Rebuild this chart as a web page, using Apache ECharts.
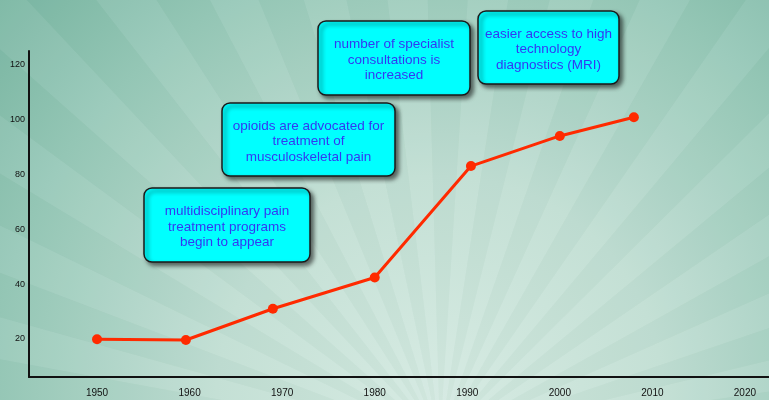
<!DOCTYPE html>
<html>
<head>
<meta charset="utf-8">
<script src="https://cdn.jsdelivr.net/npm/echarts@6/dist/echarts.min.js"></script>
<style>
html,body{margin:0;padding:0;background:#9fcfbf;}
#chart{width:769px;height:400px;}
</style>
</head>
<body>
<div id="chart"></div>
<script>
// ---- data ----
const years = [1950, 1959.6, 1969, 1980, 1990.4, 2000, 2008];
const values = [19.9, 19.6, 31, 42.4, 83.1, 94.1, 100.9];
const xTickLabels = [1950, 1960, 1970, 1980, 1990, 2000, 2010, 2020];
const yTickLabels = [20, 40, 60, 80, 100, 120];
const notes = [
  'multidisciplinary pain\ntreatment programs\nbegin to appear',
  'opioids are advocated for\ntreatment of\nmusculoskeletal pain',
  'number of specialist\nconsultations is\nincreased',
  'easier access to high\ntechnology\ndiagnostics (MRI)'
];
// box layout (pixels): x, y, w, h
const noteBoxes = [
  [144, 188, 166, 74],
  [222, 103, 173, 73],
  [318, 21, 152, 74],
  [478, 11, 141, 73]
];

const W = 769, H = 400;
const chart = echarts.init(document.getElementById('chart'), null, {renderer: 'canvas'});

// decorative background: radial gradient plus soft rays
const bg = [{
  type: 'rect', z: -100, silent: true,
  shape: {x: 0, y: 0, width: W, height: H},
  style: {
    fill: new echarts.graphic.RadialGradient(440, 400, 640, [
      {offset: 0, color: '#d5eae2'},
      {offset: 0.35, color: '#c2dfd4'},
      {offset: 0.7, color: '#98c9b9'},
      {offset: 1, color: '#73b29e'}
    ], true)
  }
}];
const cx = 440, cy = 440, R = 1400;
const step = 5.2;
for (let a = 180, i = 0; a < 360; a += step, i++) {
  const a1 = a * Math.PI / 180, a2 = (a + step) * Math.PI / 180;
  bg.push({
    type: 'polygon', z: -99, silent: true,
    shape: {points: [[cx, cy], [cx + R * Math.cos(a1), cy + R * Math.sin(a1)], [cx + R * Math.cos(a2), cy + R * Math.sin(a2)]]},
    style: {fill: i % 2 ? 'rgba(20,80,60,0.025)' : 'rgba(255,255,255,0.045)'}
  });
}

const boxes = [];
notes.forEach((t, i) => {
  const [x, y, w, h] = noteBoxes[i];
  boxes.push({
    type: 'rect', z: 100,
    shape: {x: x, y: y, width: w, height: h, r: 8},
    style: {
      fill: '#00ffff', stroke: '#1a1a1a', lineWidth: 1.5,
      shadowColor: 'rgba(0,0,0,0.55)', shadowBlur: 4, shadowOffsetX: 3, shadowOffsetY: 3
    }
  });
  boxes.push({
    type: 'text', z: 101,
    x: x + w / 2, y: y + h / 2 + 2,
    style: {
      text: t, fill: '#3338f2', font: '13.5px "Liberation Sans", Arial, sans-serif',
      align: 'center', verticalAlign: 'middle', lineHeight: 15.5
    }
  });
});

chart.setOption({
  animation: false,
  backgroundColor: 'transparent',
  grid: {left: 29, right: 0, top: 51, bottom: 23, containLabel: false},
  xAxis: {
    type: 'value', min: 1942.65, max: 2022.6,
    axisLine: {show: true, lineStyle: {color: '#111', width: 2}},
    axisTick: {show: false},
    splitLine: {show: false},
    axisLabel: {
      customValues: xTickLabels, margin: 11,
      formatter: v => String(v),
      color: '#111', fontSize: 10, fontFamily: '"Liberation Sans", Arial, sans-serif'
    }
  },
  yAxis: {
    type: 'value', min: 6.1, max: 125.1,
    axisLine: {show: true, lineStyle: {color: '#111', width: 2}},
    axisTick: {show: false},
    splitLine: {show: false},
    axisLabel: {
      customValues: yTickLabels, margin: 4,
      formatter: v => String(v),
      color: '#111', fontSize: 9, fontFamily: '"Liberation Sans", Arial, sans-serif'
    }
  },
  series: [{
    type: 'line',
    data: years.map((y, i) => [y, values[i]]),
    symbol: 'circle', symbolSize: 10,
    itemStyle: {color: '#ff2a00'},
    lineStyle: {color: '#ff2a00', width: 3},
    z: 5
  }],
  graphic: bg.concat(boxes)
});
</script>
</body>
</html>
